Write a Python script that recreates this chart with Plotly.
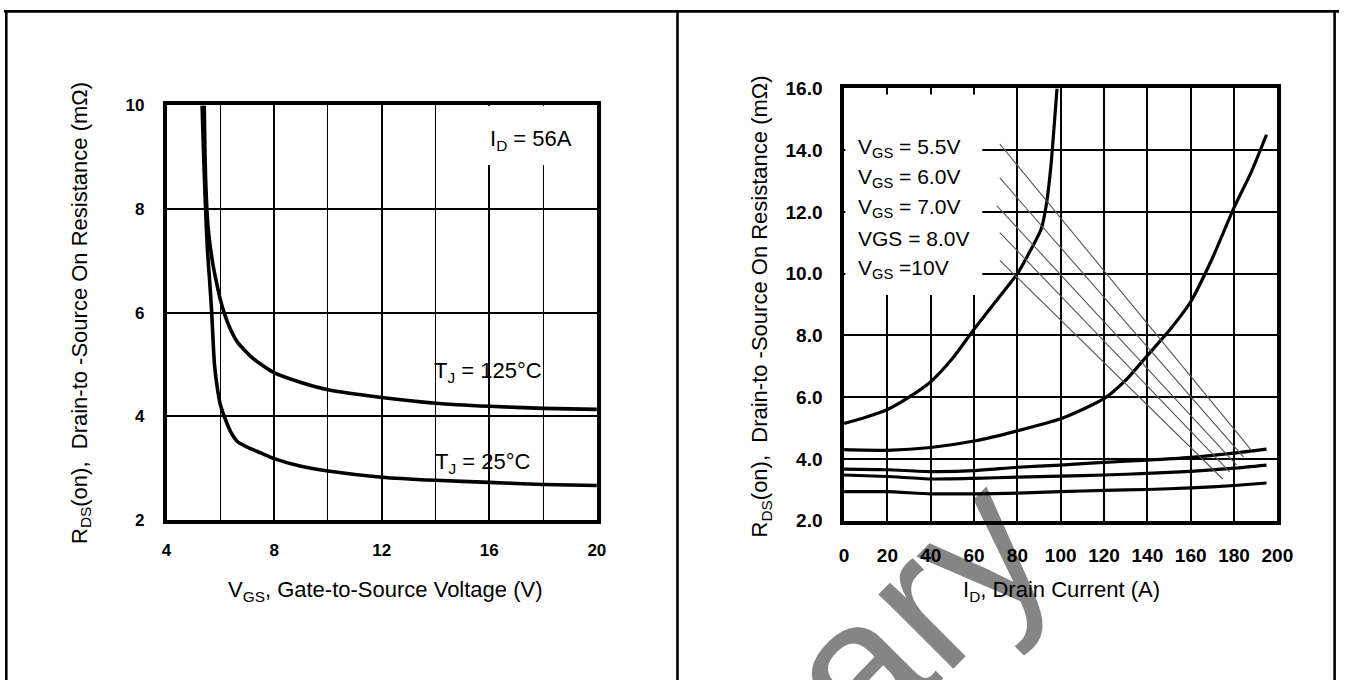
import plotly.graph_objects as go

# ---------------- data ----------------
# Left panel: RDS(on) vs VGS at ID = 56 A
vgs_125 = [5.40, 5.45, 5.55, 5.7, 5.84, 6.0, 6.15, 6.4, 6.65, 7.2, 8, 9, 10, 12, 14, 16, 18, 20]
rds_125 = [10, 8.6, 7.6, 7.0, 6.62, 6.25, 5.98, 5.65, 5.42, 5.12, 4.84, 4.65, 4.51, 4.36, 4.25, 4.19, 4.15, 4.13]
vgs_25 = [5.32, 5.38, 5.45, 5.52, 5.60, 5.68, 5.78, 5.9, 6.0, 6.2, 6.4, 6.63, 7.0, 7.5, 8, 9, 10, 12, 14, 16, 18, 20]
rds_25 = [10, 9.0, 8.0, 7.2, 6.62, 5.98, 5.0, 4.5, 4.22, 3.92, 3.68, 3.51, 3.40, 3.29, 3.18, 3.03, 2.94, 2.82, 2.76, 2.72, 2.68, 2.66]

# Right panel: RDS(on) vs ID for several VGS
id_55 = [0, 10, 20, 30, 40, 50, 60, 70, 80, 86, 91, 93.5, 95.5, 97, 98.3]
rds_55 = [5.15, 5.35, 5.6, 6.0, 6.5, 7.25, 8.2, 9.1, 10.0, 10.75, 11.45, 12.3, 13.5, 14.8, 16.0]
id_60 = [0, 20, 40, 60, 80, 100, 120, 130, 140, 150, 160, 170, 180, 188, 195]
rds_60 = [4.30, 4.28, 4.37, 4.58, 4.91, 5.3, 5.95, 6.55, 7.35, 8.15, 9.09, 10.5, 12.14, 13.3, 14.5]
id_lo = [0, 20, 40, 60, 80, 100, 120, 140, 160, 180, 195]
rds_70 = [3.67, 3.65, 3.59, 3.62, 3.73, 3.80, 3.89, 3.96, 4.05, 4.19, 4.32]
rds_80 = [3.48, 3.43, 3.35, 3.37, 3.41, 3.44, 3.48, 3.53, 3.60, 3.70, 3.80]
rds_10 = [2.94, 2.94, 2.87, 2.87, 2.89, 2.94, 2.98, 3.01, 3.06, 3.14, 3.22]

# Legend labels (right panel) and their leader lines
vgs_labels = ["V<sub>GS</sub> = 5.5V", "V<sub>GS</sub> = 6.0V", "V<sub>GS</sub> = 7.0V",
              "VGS = 8.0V", "V<sub>GS</sub> =10V"]
leader_x0 = [71.9, 71.9, 70.5, 71.9, 71.9]
leader_y0 = [14.20, 13.10, 12.20, 11.33, 10.43]
leader_x1 = [187.6, 184.4, 181.2, 178.0, 174.8]
leader_y1 = [4.32, 4.06, 3.80, 3.58, 3.35]

left_xticks = [4, 8, 12, 16, 20]
left_yticks = [2, 4, 6, 8, 10]
right_xticks = list(range(0, 201, 20))
right_yticks = [2, 4, 6, 8, 10, 12, 14, 16]

# ---------------- figure ----------------
W, H = 1352, 680
FONT = "Liberation Sans, Arial, Helvetica, sans-serif"

# placement helpers: screen pixel -> paper fraction of the drawing area
X0, XW = 5.0, 1332.0
Y0, YH = 10.4, 658.0


def px(x):
    return (x - X0) / XW


def py(y):
    return 1 - (y - Y0) / YH


fig = go.Figure()

curve = dict(color="black", width=3.6)
fig.add_trace(go.Scatter(x=vgs_125, y=rds_125, mode="lines", line=dict(curve, shape="spline", smoothing=0.6),
                         xaxis="x", yaxis="y", hoverinfo="skip"))
fig.add_trace(go.Scatter(x=vgs_25, y=rds_25, mode="lines", line=dict(curve, shape="spline", smoothing=0.6),
                         xaxis="x", yaxis="y", hoverinfo="skip"))

rcurve = dict(color="black", width=3.2)
for xs, ys in [(id_55, rds_55), (id_60, rds_60), (id_lo, rds_70), (id_lo, rds_80), (id_lo, rds_10)]:
    fig.add_trace(go.Scatter(x=xs, y=ys, mode="lines", line=dict(rcurve, shape="spline", smoothing=0.6),
                             xaxis="x2", yaxis="y2", hoverinfo="skip"))

# thin leader lines from the VGS labels
for x0, y0, x1, y1 in zip(leader_x0, leader_y0, leader_x1, leader_y1):
    fig.add_trace(go.Scatter(x=[x0, x1], y=[y0, y1], mode="lines",
                             line=dict(color="#555555", width=1.1),
                             xaxis="x2", yaxis="y2", hoverinfo="skip"))

tickfont = dict(family=FONT, size=17, color="black", weight="bold")
common = dict(showline=True, mirror=True, linecolor="black", linewidth=3.5,
              ticks="", zeroline=False, showgrid=True, gridcolor="black", fixedrange=True)

fig.update_layout(
    width=W, height=H,
    margin=dict(l=0, r=0, t=0, b=0),
    paper_bgcolor="white", plot_bgcolor="white",
    showlegend=False,
    xaxis=dict(common, domain=[px(166.7), px(597.3)], range=[4, 20],
               tickvals=left_xticks, gridwidth=2.4, tickfont=tickfont, ticklabelstandoff=12,
               minor=dict(dtick=2, tick0=4, showgrid=True, gridcolor="black", gridwidth=1.3), anchor="y"),
    yaxis=dict(common, domain=[py(519.3), py(105.7)], range=[2, 10],
               tickvals=left_yticks, gridwidth=2.4, tickfont=tickfont, ticklabelstandoff=15, anchor="x"),
    xaxis2=dict(common, domain=[px(844.7), px(1278.3)], range=[0, 200],
                tickvals=right_xticks, gridwidth=1.8, tickfont=dict(tickfont, size=19),
                ticklabelstandoff=15, anchor="y2"),
    yaxis2=dict(common, domain=[py(520.3), py(88.7)], range=[2, 16],
                tickvals=right_yticks, ticktext=[f"{v:.1f}" for v in right_yticks],
                gridwidth=1.8, tickfont=dict(tickfont, size=19), ticklabelstandoff=14, anchor="x2"),
)

# white boxes behind the in-plot labels (between grid and traces)
fig.add_shape(type="rect", xref="x", yref="y", layer="between",
              x0=15.42, x1=19.77, y0=8.85, y1=9.99, fillcolor="white", line_width=0)
fig.add_shape(type="rect", xref="x2", yref="y2", layer="between",
              x0=0.6, x1=63.8, y0=9.31, y1=15.8, fillcolor="white", line_width=0)

# outer table frame
frame = dict(color="black", width=2.6)
fig.add_shape(type="line", xref="paper", yref="paper", x0=px(4), x1=px(1340), y0=py(11.8), y1=py(11.8), line=frame)
for xv in [6.3, 678, 1335.6]:
    fig.add_shape(type="line", xref="paper", yref="paper", x0=px(xv), x1=px(xv), y0=py(11.8), y1=py(700), line=frame)

ann = []
lab = dict(family=FONT, size=22, color="black")
# axis titles
ann.append(dict(text="V<sub>GS</sub>, Gate-to-Source Voltage (V)", x=px(386), y=py(591), font=lab))
ann.append(dict(text="I<sub>D</sub>, Drain Current (A)", x=px(1062), y=py(591), font=lab))
ytitle = "R<sub>DS</sub>(on),\u00a0\u00a0Drain-to -Source On Resistance (m\u03a9)"
ann.append(dict(text=ytitle, x=px(81), y=py(313), textangle=-90, font=lab))
ann.append(dict(text=ytitle, x=px(762), y=py(306), textangle=-90, font=lab))
# in-plot labels, left panel
ann.append(dict(text="I<sub>D</sub> = 56A", x=px(531), y=py(140), font=lab))
ann.append(dict(text="T<sub>J</sub> = 125\u00b0C", x=px(488), y=py(372), font=lab))
ann.append(dict(text="T<sub>J</sub> = 25\u00b0C", x=px(483), y=py(463), font=lab))
# VGS labels, right panel
for i, t in enumerate(vgs_labels):
    ann.append(dict(text=t, x=px(857), y=py(148 + 30.2 * i), xanchor="left",
                    font=dict(lab, size=21)))
# watermark
ann.append(dict(text="Preliminary", x=px(659), y=py(865), textangle=-45,
                font=dict(family=FONT, size=200, color="rgba(0,0,0,0.48)")))

for a in ann:
    a.setdefault("xref", "paper")
    a.setdefault("yref", "paper")
    a.setdefault("showarrow", False)
    a.setdefault("xanchor", "center")
    a.setdefault("yanchor", "middle")
fig.update_layout(annotations=ann)

fig.write_html("out.html", config={"displayModeBar": False})
